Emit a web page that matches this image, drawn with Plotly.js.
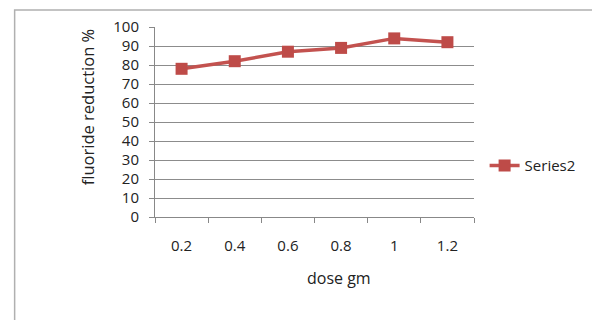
<!DOCTYPE html>
<html>
<head>
<meta charset="utf-8">
<script src="https://cdn.plot.ly/plotly-3.0.1.min.js"></script>
<style>html,body{margin:0;padding:0;background:#fff;}#chart{width:592px;height:320px;}</style>
</head>
<body>
<div id="chart"></div>
<script>
var doses = ["0.2", "0.4", "0.6", "0.8", "1", "1.2"];
var reduction = [78, 82, 87, 89, 94, 92];
var seriesName = "Series2";
var yTicks = [0, 10, 20, 30, 40, 50, 60, 70, 80, 90, 100];
var xTitle = "dose gm";
var yTitle = "fluoride reduction %";

var trace = {
  x: doses,
  y: reduction,
  type: "scatter",
  mode: "lines+markers",
  name: seriesName,
  line: {color: "#c3524f", width: 3.5},
  marker: {symbol: "square", size: 12, color: "#be4b48", line: {width: 0}}
};

var layout = {
  width: 592, height: 320,
  margin: {l: 155, r: 117, t: 27, b: 103},
  paper_bgcolor: "#ffffff",
  plot_bgcolor: "#ffffff",
  font: {family: "Open Sans, Liberation Sans, sans-serif", size: 15, color: "#222"},
  showlegend: true,
  legend: {x: 1.03, y: 0.27, xanchor: "left", yanchor: "middle", font: {size: 15, color: "#222"}, itemwidth: 30, bgcolor: "rgba(0,0,0,0)"},
  xaxis: {
    type: "category",
    range: [-0.5, 5.5],
    showgrid: false,
    zeroline: false,
    showline: true, linecolor: "#888", linewidth: 1,
    ticks: "outside", tickson: "boundaries", ticklen: 5, tickcolor: "#888",
    ticklabelstandoff: 15,
    tickfont: {size: 15, color: "#222"}
  },
  yaxis: {
    range: [0, 100],
    tickvals: yTicks,
    showgrid: true, gridcolor: "#8c8c8c", gridwidth: 1,
    zeroline: false,
    showline: true, linecolor: "#888", linewidth: 1,
    ticks: "outside", ticklen: 5, tickcolor: "#888",
    ticklabelstandoff: 7,
    tickfont: {size: 15, color: "#222"}
  },
  annotations: [
    {text: xTitle, xref: "paper", yref: "paper", x: (340 - 155) / 320, y: (217 - 278) / 190,
     xanchor: "center", yanchor: "middle", showarrow: false, font: {size: 16, color: "#222"}},
    {text: yTitle, xref: "paper", yref: "paper", x: (87 - 155) / 320, y: (217 - 107) / 190,
     xanchor: "center", yanchor: "middle", textangle: -90, showarrow: false, font: {size: 16.5, color: "#222"}}
  ],
  shapes: [{
    type: "rect", xref: "paper", yref: "paper",
    x0: -0.44, x1: 1.5, y0: -0.7, y1: 1.089,
    line: {color: "#b0b0b0", width: 1.5}, fillcolor: "rgba(0,0,0,0)", layer: "below"
  }]
};

Plotly.newPlot("chart", [trace], layout, {displayModeBar: false, staticPlot: true});
</script>
</body>
</html>
